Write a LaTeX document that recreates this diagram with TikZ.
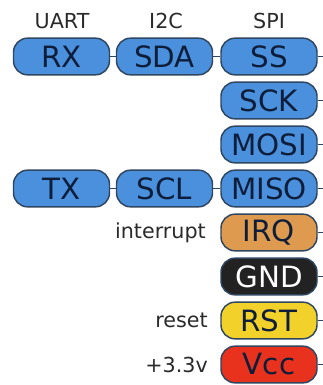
\documentclass[tikz,border=0pt]{standalone}
\usepackage{fontspec}
\setmainfont{DejaVu Sans}
\definecolor{pinblue}{HTML}{4A90DC}
\definecolor{pinorange}{HTML}{DE9A4E}
\definecolor{pinblack}{HTML}{222222}
\definecolor{pinyellow}{HTML}{F2D22A}
\definecolor{pinred}{HTML}{E8321E}
\definecolor{pinborder}{HTML}{2E4660}
\definecolor{pintext}{HTML}{0E1E3A}
\definecolor{labeltext}{HTML}{2A2A2A}
\begin{document}
\begin{tikzpicture}[x=0.75pt,y=-0.75pt,
  pin/.style={draw=pinborder, line width=1.1pt, rounded corners=10.5pt,
    minimum width=72pt, minimum height=27.5pt, inner sep=0pt,
    text=pintext, font=\fontsize{22}{22}\selectfont},
  bluepin/.style={pin, fill=pinblue},
  hdr/.style={text=labeltext, font=\fontsize{15.5}{16}\selectfont, inner sep=0pt},
  side/.style={text=labeltext, font=\fontsize{15.5}{16}\selectfont, inner sep=0pt, anchor=east},
  wire/.style={draw=pinborder, line width=0.9pt}]
\useasboundingbox (0,0) rectangle (323,385);
% headers
\node[hdr] (huart) at (62,21) {UART};
\node[hdr] (hi2c) at (166,21) {I2C};
\node[hdr] (hspi) at (269,21) {SPI};
% left columns
\node[bluepin] (rx) at (61.5,56.5) {RX};
\node[bluepin] (sda) at (164.5,56.5) {SDA};
\node[bluepin] (tx) at (61.5,188.5) {TX};
\node[bluepin] (scl) at (164.5,188.5) {SCL};
% right column
\node[bluepin] (ss) at (269,56.5) {SS};
\node[bluepin] (sck) at (269,100.5) {SCK};
\node[bluepin] (mosi) at (269,144.5) {MOSI};
\node[bluepin] (miso) at (269,188.5) {MISO};
\node[pin, fill=pinorange] (irq) at (269,232.5) {IRQ};
\node[pin, fill=pinblack, text=white] (gnd) at (269,276.5) {GND};
\node[pin, fill=pinyellow] (rst) at (269,320.5) {RST};
\node[pin, fill=pinred] (vcc) at (269,364.5) {Vcc};
% side labels
\node[side] (lint) at (206,232.5) {interrupt};
\node[side] (lrst) at (208,320.5) {reset};
\node[side] (lvcc) at (208,364.5) {+3.3v};
% wires between boxes
\draw[wire] (rx) -- (sda);
\draw[wire] (sda) -- (ss);
\draw[wire] (tx) -- (scl);
\draw[wire] (scl) -- (miso);
% wire stubs to the right edge
\foreach \n/\yy in {ss/56.5,sck/100.5,mosi/144.5,miso/188.5,irq/232.5,gnd/276.5,rst/320.5,vcc/364.5}{
  \coordinate (e\n) at (323,\yy);
  \draw[wire] (\n) -- (e\n);
}
\end{tikzpicture}
\end{document}
